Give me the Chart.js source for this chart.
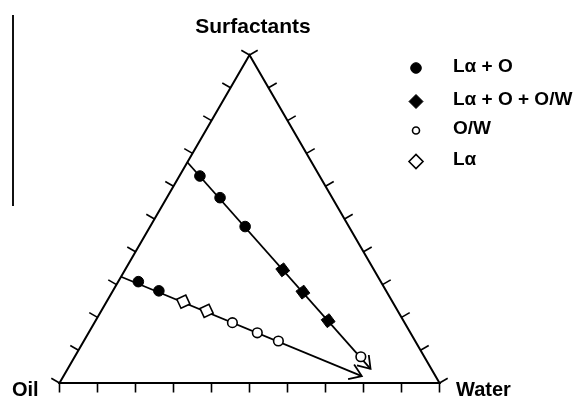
<!DOCTYPE html>
<html>
<head>
<meta charset="utf-8">
<script src="https://cdn.jsdelivr.net/npm/chart.js@4.4.1/dist/chart.umd.min.js"></script>
<style>
  body { margin: 0; background: #fff; }
  #wrap { position: relative; width: 578px; height: 397px; }
  #mark { position: absolute; left: 12px; top: 15px; height: 191px; border-left: 2px solid #111; }
</style>
</head>
<body>
<div id="wrap">
  <canvas id="chart"></canvas>
  <div id="mark"></div>
</div>
<script>
const cornerLabels = ["Oil", "Water", "Surfactants"];
const seriesNames = ["Lα + O", "Lα + O + O/W", "O/W", "Lα"];
const tickSteps = [0, 10, 20, 30, 40, 50, 60, 70, 80, 90, 100];

// compositions in % (water, surfactant), oil is the rest
const laO_water = [5.4, 14.0, 25.0, 5.3, 12.1];
const laO_surf = [63.1, 56.5, 47.7, 30.9, 28.1];
const laOOW_water = [41.5, 50.2, 61.2];
const laOOW_surf = [34.5, 27.7, 19.0];
const ow_water = [75.3, 36.3, 44.4, 51.2];
const ow_surf = [8.0, 18.4, 15.3, 12.8];
const la_water = [20.2, 27.7];
const la_surf = [24.8, 22.0];

// dilution paths (start on the oil/surfactant edge, arrow at the end)
const path1_water = [0, 79.7];
const path1_surf = [67.3, 4.3];
const path2_water = [0, 78.5];
const path2_surf = [32.4, 2.1];

const H = Math.sqrt(3) / 2;
const FONT = "'Liberation Sans', Arial, sans-serif";

function toXY(water, surf) {
    return water.map((w, i) => ({ x: w / 100 + surf[i] / 200, y: surf[i] / 100 * H }));
}

function markerSet(label, water, surf, style, filled, radius, legendRadius, rotation) {
    return {
        label: label,
        data: toXY(water, surf),
        showLine: false,
        pointStyle: style,
        pointRadius: radius,
        pointRotation: rotation || 0,
        pointBackgroundColor: filled ? "#000" : "#fff",
        pointBorderColor: "#000",
        pointBorderWidth: filled ? 1 : 1.6,
        legendRadius: legendRadius,
        clip: false
    };
}

function pathSet(water, surf) {
    return {
        label: "path",
        data: toXY(water, surf),
        showLine: true,
        borderColor: "#000",
        borderWidth: 1.8,
        pointRadius: 0,
        arrow: true,
        clip: false
    };
}

const ternary = {
    id: "ternary",
    beforeDatasetsDraw(chart) {
        const ctx = chart.ctx;
        const sx = chart.scales.x, sy = chart.scales.y;
        const px = p => ({ x: sx.getPixelForValue(p.x), y: sy.getPixelForValue(p.y) });
        const oil = px({ x: 0, y: 0 }), water = px({ x: 1, y: 0 }), top = px({ x: 0.5, y: H });
        const cx = (oil.x + water.x + top.x) / 3, cy = (oil.y + water.y + top.y) / 3;

        ctx.save();
        ctx.strokeStyle = "#000";
        ctx.lineWidth = 2;
        ctx.beginPath();
        ctx.moveTo(oil.x, oil.y);
        ctx.lineTo(water.x, water.y);
        ctx.lineTo(top.x, top.y);
        ctx.closePath();
        ctx.stroke();

        ctx.lineWidth = 1.6;
        [[oil, water], [water, top], [top, oil]].forEach(([a, b]) => {
            const dx = b.x - a.x, dy = b.y - a.y;
            const len = Math.hypot(dx, dy);
            let nx = -dy / len, ny = dx / len;
            const mx = (a.x + b.x) / 2, my = (a.y + b.y) / 2;
            if ((mx - cx) * nx + (my - cy) * ny < 0) { nx = -nx; ny = -ny; }
            tickSteps.forEach(t => {
                const x = a.x + dx * t / 100, y = a.y + dy * t / 100;
                ctx.beginPath();
                ctx.moveTo(x, y);
                ctx.lineTo(x + nx * 9.5, y + ny * 9.5);
                ctx.stroke();
            });
        });
        ctx.restore();
    },
    afterDatasetsDraw(chart) {
        const ctx = chart.ctx;
        ctx.save();
        ctx.strokeStyle = "#000";
        ctx.fillStyle = "#000";

        // arrow heads
        chart.data.datasets.forEach((ds, i) => {
            if (!ds.arrow) return;
            const pts = chart.getDatasetMeta(i).data;
            const end = pts[pts.length - 1], prev = pts[pts.length - 2];
            const ang = Math.atan2(end.y - prev.y, end.x - prev.x);
            ctx.lineWidth = 1.8;
            ctx.beginPath();
            ctx.moveTo(end.x + Math.cos(ang + Math.PI - 0.6) * 14, end.y + Math.sin(ang + Math.PI - 0.6) * 14);
            ctx.lineTo(end.x, end.y);
            ctx.lineTo(end.x + Math.cos(ang + Math.PI + 0.6) * 14, end.y + Math.sin(ang + Math.PI + 0.6) * 14);
            ctx.stroke();
        });

        // corner labels
        ctx.textBaseline = "alphabetic";
        ctx.font = "bold 20px " + FONT;
        ctx.textAlign = "left";
        ctx.fillText(cornerLabels[0], 12, 396);
        ctx.fillText(cornerLabels[1], 456, 396);
        ctx.font = "bold 21px " + FONT;
        ctx.textAlign = "center";
        ctx.fillText(cornerLabels[2], 253, 33);

        // legend
        const rowY = [68, 101.5, 130.5, 161.5];
        ctx.font = "bold 19px " + FONT;
        ctx.textAlign = "left";
        ctx.textBaseline = "middle";
        chart.data.datasets.forEach((ds, i) => {
            if (ds.legendRadius === undefined) return;
            const x = 416, y = rowY[i], r = ds.legendRadius;
            ctx.beginPath();
            if (ds.pointStyle === "circle") {
                ctx.arc(x, y, r, 0, Math.PI * 2);
            } else {
                ctx.moveTo(x - r, y);
                ctx.lineTo(x, y - r);
                ctx.lineTo(x + r, y);
                ctx.lineTo(x, y + r);
                ctx.closePath();
            }
            ctx.fillStyle = ds.pointBackgroundColor;
            ctx.fill();
            ctx.lineWidth = ds.pointBorderWidth;
            ctx.stroke();
            ctx.fillStyle = "#000";
            ctx.fillText(ds.label, 453, y - 1.5);
        });
        ctx.restore();
    }
};

new Chart(document.getElementById("chart"), {
    type: "scatter",
    data: {
        datasets: [
            markerSet(seriesNames[0], laO_water, laO_surf, "circle", true, 5.3, 5.3),
            markerSet(seriesNames[1], laOOW_water, laOOW_surf, "rectRot", true, 7, 7, 8),
            markerSet(seriesNames[2], ow_water, ow_surf, "circle", false, 4.8, 3.5),
            markerSet(seriesNames[3], la_water, la_surf, "rectRot", false, 7, 7, 20),
            pathSet(path1_water, path1_surf),
            pathSet(path2_water, path2_surf)
        ]
    },
    options: {
        responsive: true,
        maintainAspectRatio: false,
        animation: false,
        layout: { padding: { left: 59.5, right: 138.5, top: 55, bottom: 14 } },
        scales: {
            x: { type: "linear", min: 0, max: 1, display: false },
            y: { type: "linear", min: 0, max: H, display: false }
        },
        plugins: {
            legend: { display: false },
            tooltip: { enabled: false }
        }
    },
    plugins: [ternary]
});
</script>
</body>
</html>
